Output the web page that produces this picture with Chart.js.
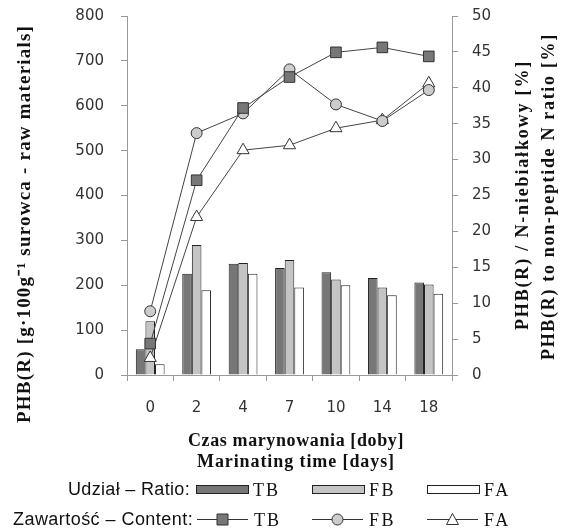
<!DOCTYPE html>
<html>
<head>
<meta charset="utf-8">
<script src="https://cdn.jsdelivr.net/npm/chart.js@4"></script>
<style>
  html, body { margin: 0; padding: 0; background: #fff; }
  #wrap { width: 564px; height: 530px; }
</style>
</head>
<body>
<div id="wrap"><canvas id="myChart" width="564" height="530"></canvas></div>
<script>
// Doby marynowania
const days = ['0', '2', '4', '7', '10', '14', '18'];

// Udział - Ratio [%] (słupki, oś prawa)
const ratioTB = [3.6, 14.1, 15.5, 14.9, 14.3, 13.5, 12.9];
const ratioFB = [7.5, 18.1, 15.6, 16.0, 13.3, 12.2, 12.6];
const ratioFA = [1.5, 11.8, 14.1, 12.2, 12.5, 11.1, 11.3];

// Zawartość - Content (linie, oś lewa)
const contentTB = [70, 434, 595, 664, 719, 730, 710];
const contentFB = [142, 539, 583, 681, 603, 566, 635];
const contentFA = [38, 352, 501, 512, 550, 568, 650];

const serifB = 'bold 18px "Liberation Serif", "DejaVu Serif", serif';
const tickFont = { family: '"DejaVu Sans", sans-serif', size: 15 };

// tekst rozciągnięty do zadanej szerokości (od x0)
function fitText(c, text, x0, y, width) {
  c.letterSpacing = '0px';
  const w0 = c.measureText(text).width;
  c.letterSpacing = ((width - w0) / text.length).toFixed(2) + 'px';
  c.textAlign = 'left';
  c.fillText(text, x0, y);
  c.letterSpacing = '0px';
}

// Tytuły osi i legenda rysowane ręcznie
const extras = {
  id: 'extras',
  afterDraw(chart) {
    const c = chart.ctx;
    c.save();
    c.fillStyle = '#111';
    c.textBaseline = 'middle';

    // lewa oś
    c.save();
    c.translate(25, 423);
    c.rotate(-Math.PI / 2);
    c.font = 'bold 19px "Liberation Serif", serif';
    fitText(c, 'PHB(R) [g·100g⁻¹ surowca - raw materials]', 0, 0, 398);
    c.restore();

    // prawa oś
    c.save();
    c.rotate(-Math.PI / 2);
    c.font = serifB;
    fitText(c, 'PHB(R) / N-niebiałkowy [%]', -330, 523, 270);
    fitText(c, 'PHB(R) to non-peptide N ratio [%]', -360, 549, 327);
    c.restore();

    // oś x
    c.font = serifB;
    fitText(c, 'Czas marynowania [doby]', 188, 441, 216);
    fitText(c, 'Marinating time [days]', 197, 462, 198);

    // legenda - etykiety
    c.font = '18px "Liberation Sans", Arial, sans-serif';
    fitText(c, 'Udział – Ratio:', 68, 490, 122);
    fitText(c, 'Zawartość – Content:', 13, 520, 180);

    const lab = (t, x, y) => {
      c.fillStyle = '#111';
      c.font = '18px "Liberation Serif", serif';
      fitText(c, t, x, y, 27);
    };

    // wiersz 1 - słupki
    const boxes = [[196, '#777777', 'TB'], [312, '#c4c4c4', 'FB'], [427, '#ffffff', 'FA']];
    c.lineWidth = 1;
    c.strokeStyle = '#222';
    boxes.forEach(([x, col, t]) => {
      c.fillStyle = col;
      c.fillRect(x + 0.5, 485.5, 52, 8);
      c.strokeRect(x + 0.5, 485.5, 52, 8);
      lab(t, x + 57, 491);
    });

    // wiersz 2 - linie
    const marks = [[197, 'rect', '#777777', 'TB'], [312, 'circle', '#cccccc', 'FB'], [427, 'triangle', '#ffffff', 'FA']];
    marks.forEach(([x, shape, col, t]) => {
      c.strokeStyle = '#333';
      c.beginPath();
      c.moveTo(x, 519.5);
      c.lineTo(x + 51, 519.5);
      c.stroke();
      const cx = x + 25.5, cy = 519.5;
      c.fillStyle = col;
      c.beginPath();
      if (shape === 'rect') {
        c.rect(cx - 5.5, cy - 5.5, 11, 11);
      } else if (shape === 'circle') {
        c.arc(cx, cy, 5.5, 0, Math.PI * 2);
      } else {
        c.moveTo(cx, cy - 6);
        c.lineTo(cx + 6, cy + 5);
        c.lineTo(cx - 6, cy + 5);
        c.closePath();
      }
      c.fill();
      c.stroke();
      lab(t, x + 57, 521);
    });
    c.restore();
  }
};

const lineStyle = {
  type: 'line',
  yAxisID: 'yL',
  borderColor: '#444',
  borderWidth: 1,
  pointBorderColor: '#333',
  pointBorderWidth: 1,
  tension: 0,
  order: 0
};

const barStyle = {
  type: 'bar',
  yAxisID: 'yR',
  borderColor: '#222',
  borderWidth: 1,
  categoryPercentage: 0.62,
  barPercentage: 1,
  order: 1
};

new Chart(document.getElementById('myChart').getContext('2d'), {
  data: {
    labels: days,
    datasets: [
      { ...lineStyle, label: 'Zawartość TB', data: contentTB, pointStyle: 'rect', pointRadius: 7.5, pointBackgroundColor: '#777777' },
      { ...lineStyle, label: 'Zawartość FB', data: contentFB, pointStyle: 'circle', pointRadius: 5.5, pointBackgroundColor: '#cccccc' },
      { ...lineStyle, label: 'Zawartość FA', data: contentFA, pointStyle: 'triangle', pointRadius: 7, pointBackgroundColor: '#ffffff' },
      { ...barStyle, label: 'Udział TB', data: ratioTB, backgroundColor: '#777777' },
      { ...barStyle, label: 'Udział FB', data: ratioFB, backgroundColor: '#c4c4c4' },
      { ...barStyle, label: 'Udział FA', data: ratioFA, backgroundColor: '#ffffff' }
    ]
  },
  options: {
    responsive: false,
    animation: false,
    layout: { padding: { top: 16, left: 0, right: 0, bottom: 0 } },
    plugins: { legend: { display: false }, tooltip: { enabled: false } },
    scales: {
      x: {
        offset: true,
        grid: { offset: true, drawOnChartArea: false, tickLength: 6, color: '#999' },
        border: { color: '#999' },
        ticks: { font: tickFont, color: '#333', padding: 18 },
        afterFit(s) { s.height = 155; s.paddingLeft = 0; s.paddingRight = 0; }
      },
      yL: {
        position: 'left',
        min: 0, max: 800,
        grid: { drawOnChartArea: false, tickLength: 6, color: '#999' },
        border: { color: '#999' },
        ticks: { stepSize: 100, font: tickFont, color: '#333', padding: 17 },
        afterFit(s) { s.width = 127; s.paddingTop = 0; s.paddingBottom = 0; }
      },
      yR: {
        position: 'right',
        min: 0, max: 50,
        grid: { drawOnChartArea: false, tickLength: 6, color: '#999' },
        border: { color: '#999' },
        ticks: { stepSize: 5, font: tickFont, color: '#333', padding: 14 },
        afterFit(s) { s.width = 112; s.paddingTop = 0; s.paddingBottom = 0; }
      }
    }
  },
  plugins: [extras]
});
</script>
</body>
</html>
